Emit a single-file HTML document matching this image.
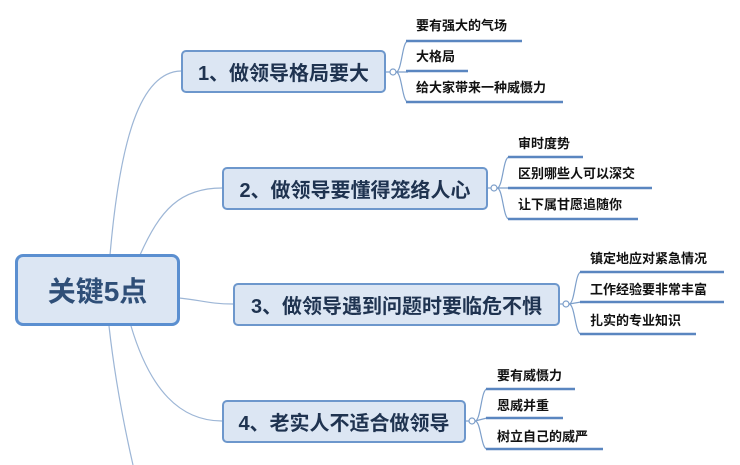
<!DOCTYPE html>
<html><head><meta charset="utf-8"><style>
html,body{margin:0;padding:0;background:#fff;}
.w{position:relative;width:740px;height:465px;overflow:hidden;font-family:"Liberation Sans","Noto Sans CJK SC",sans-serif;}
.b{position:absolute;box-sizing:border-box;background:#dce6f3;border:2px solid #6d97cc;border-radius:5px;color:#1f3350;font-weight:bold;display:flex;align-items:center;justify-content:center;white-space:nowrap;}
.t{position:absolute;font-size:13px;font-weight:bold;color:#111;white-space:nowrap;line-height:16px;}
svg{position:absolute;left:0;top:0;}
</style></head><body><div class="w">
<svg width="740" height="465" viewBox="0 0 740 465" fill="none">
<g stroke="#9db6d6" stroke-width="1.2">
<path d="M110 255 C120 140 140 72 181 71"/>
<path d="M140 255 C160 210 180 188 222 188"/>
<path d="M179 298 C200 300 210 304 233 304"/>
<path d="M131 326 C150 390 180 421 222 421"/>
<path d="M109 326 C115 380 125 430 133 465"/>
</g>
<g stroke="#7d9fca" stroke-width="1.2">
<line x1="386" y1="72" x2="390" y2="72"/><circle cx="393" cy="72" r="3" fill="#fff"/>
<path d="M396 72 C402 72 402 41 408 41 M396 72 L408 72 M396 72 C402 72 402 102 408 102"/>
<line x1="488" y1="188" x2="491" y2="188"/><circle cx="494" cy="188" r="3" fill="#fff"/>
<path d="M497 188 C503 188 503 157 509 157 M497 188 L509 188 M497 188 C503 188 503 219 509 219"/>
<line x1="560" y1="304" x2="563" y2="304"/><circle cx="566" cy="304" r="3" fill="#fff"/>
<path d="M569 304 C575 304 575 272 581 272 M569 304 L581 302 M569 304 C575 304 575 334 581 334"/>
<line x1="466" y1="421" x2="469" y2="421"/><circle cx="472" cy="421" r="3" fill="#fff"/>
<path d="M475 421 C481 421 481 389 487 389 M475 421 L487 418 M475 421 C481 421 481 449 487 449"/>
</g>
<g stroke="#5a86c0" stroke-width="2.5">
<line x1="406" y1="41" x2="522" y2="41"/>
<line x1="406" y1="71" x2="468" y2="71"/>
<line x1="406" y1="102" x2="563" y2="102"/>
<line x1="508" y1="157" x2="583" y2="157"/>
<line x1="508" y1="188" x2="652" y2="188"/>
<line x1="508" y1="219" x2="638" y2="219"/>
<line x1="580" y1="272" x2="724" y2="272"/>
<line x1="580" y1="302" x2="724" y2="302"/>
<line x1="580" y1="334" x2="696" y2="334"/>
<line x1="486" y1="389" x2="575" y2="389"/>
<line x1="486" y1="418" x2="563" y2="418"/>
<line x1="486" y1="449" x2="603" y2="449"/>
</g>
</svg>
<div class="b" style="left:15px;top:254px;width:165px;height:72px;border:3.5px solid #5b8fd0;border-radius:8px;font-size:28px;color:#2f4f78;">关键5点</div>
<div class="b" style="left:181px;top:50px;width:205px;height:43px;font-size:20px;">1、做领导格局要大</div>
<div class="b" style="left:222px;top:167px;width:266px;height:43px;font-size:20px;">2、做领导要懂得笼络人心</div>
<div class="b" style="left:233px;top:283px;width:327px;height:43px;font-size:20px;">3、做领导遇到问题时要临危不惧</div>
<div class="b" style="left:222px;top:400px;width:244px;height:43px;font-size:20px;">4、老实人不适合做领导</div>
<div class="t" style="left:416px;top:18px;">要有强大的气场</div>
<div class="t" style="left:416px;top:49px;">大格局</div>
<div class="t" style="left:416px;top:80px;">给大家带来一种威慑力</div>
<div class="t" style="left:518px;top:136px;">审时度势</div>
<div class="t" style="left:518px;top:166px;">区别哪些人可以深交</div>
<div class="t" style="left:518px;top:197px;">让下属甘愿追随你</div>
<div class="t" style="left:590px;top:251px;">镇定地应对紧急情况</div>
<div class="t" style="left:590px;top:282px;">工作经验要非常丰富</div>
<div class="t" style="left:590px;top:313px;">扎实的专业知识</div>
<div class="t" style="left:497px;top:368px;">要有威慑力</div>
<div class="t" style="left:497px;top:398px;">恩威并重</div>
<div class="t" style="left:497px;top:429px;">树立自己的威严</div>
</div></body></html>
